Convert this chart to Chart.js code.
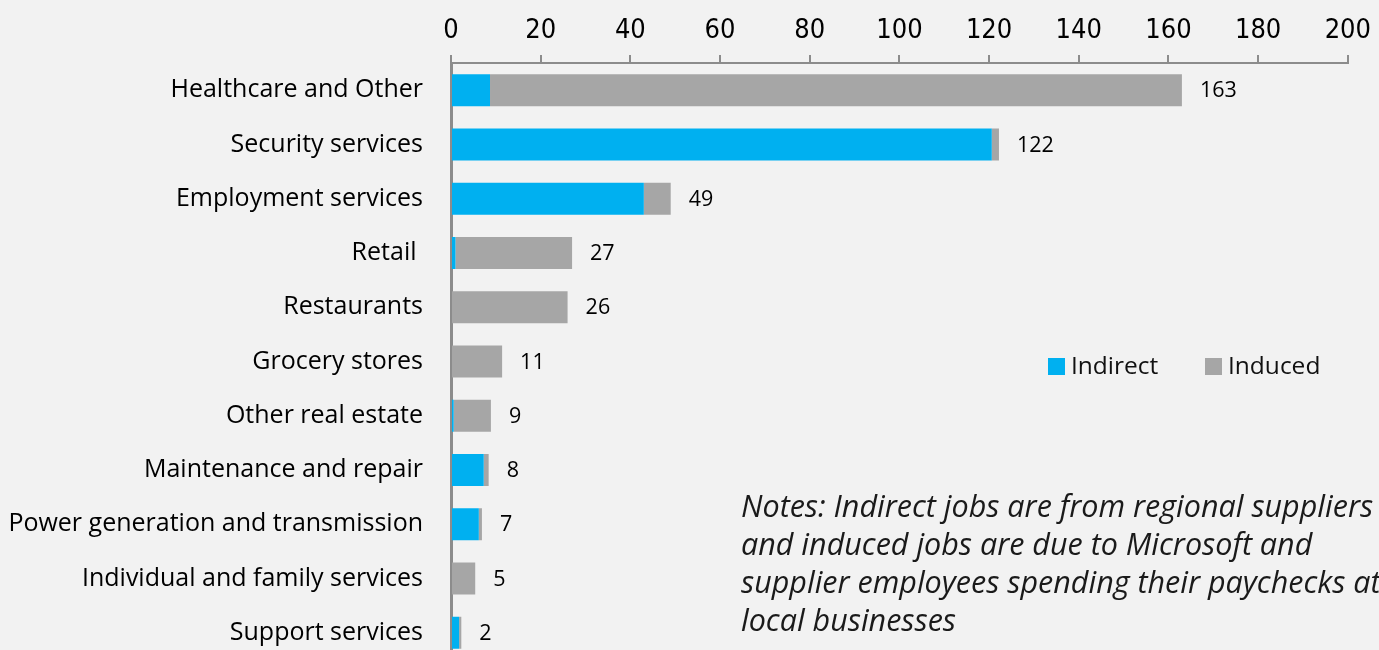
<!DOCTYPE html>
<html>
<head>
<meta charset="utf-8">
<script src="https://cdn.jsdelivr.net/npm/chart.js@4.4.0/dist/chart.umd.min.js"></script>
<style>
  html, body { margin: 0; padding: 0; background: #f2f2f2; overflow: hidden; }
  #wrap { position: relative; width: 1379px; height: 650px; overflow: hidden; background: #f2f2f2; }
  #c { position: absolute; left: 0; top: 0; }
  #notes { position: absolute; left: 741px; top: 486px; font-family: "Open Sans", sans-serif; font-style: italic;
           font-size: 30.5px; line-height: 38px; color: #1a1a1a; white-space: nowrap; }
</style>
</head>
<body>
<div id="wrap">
  <canvas id="c" width="1379" height="703" style="width:1379px;height:703px"></canvas>
  <div id="notes">Notes: Indirect jobs are from regional suppliers<br>and induced jobs are due to Microsoft and<br>supplier employees spending their paychecks at<br>local businesses</div>
</div>
<script>
const categories = ["Healthcare and Other", "Security services", "Employment services", "Retail ", "Restaurants",
  "Grocery stores", "Other real estate", "Maintenance and repair", "Power generation and transmission",
  "Individual and family services", "Support services"];
const indirect = [8.7, 120.6, 43, 1, 0, 0, 0.6, 7.3, 6.2, 0, 1.8];
const induced  = [154.3, 1.6, 6, 26, 26, 11.4, 8.3, 1.1, 0.7, 5.4, 0.5];
const xTicks = [0, 20, 40, 60, 80, 100, 120, 140, 160, 180, 200];
const seriesNames = ["Indirect", "Induced"];
const seriesColors = ["#00B0F0", "#A6A6A6"];

const totalsPlugin = {
  id: 'totals',
  afterDatasetsDraw(chart) {
    const ctx = chart.ctx;
    const meta = chart.getDatasetMeta(1);
    ctx.save();
    ctx.font = '21.5px "Open Sans", sans-serif';
    ctx.fillStyle = '#000';
    ctx.textAlign = 'left';
    ctx.textBaseline = 'middle';
    meta.data.forEach((bar, i) => {
      const total = indirect[i] + induced[i];
      ctx.fillText(String(Math.round(total)), bar.x + 18, bar.y + 1);
    });
    ctx.restore();
  }
};

const legendPlugin = {
  id: 'customLegend',
  afterDraw(chart) {
    const ctx = chart.ctx;
    const xs = [1048, 1205];
    ctx.save();
    ctx.font = '24.5px "Open Sans", sans-serif';
    ctx.textBaseline = 'middle';
    ctx.textAlign = 'left';
    chart.data.datasets.forEach((ds, i) => {
      ctx.fillStyle = ds.backgroundColor;
      ctx.fillRect(xs[i], 358, 17, 17);
      ctx.fillStyle = '#111';
      ctx.fillText(ds.label, xs[i] + 23, 367);
    });
    ctx.restore();
  }
};

new Chart(document.getElementById('c'), {
  type: 'bar',
  data: {
    labels: categories,
    datasets: [
      { label: seriesNames[0], data: indirect, backgroundColor: seriesColors[0], categoryPercentage: 1, barPercentage: 0.59 },
      { label: seriesNames[1], data: induced, backgroundColor: seriesColors[1], categoryPercentage: 1, barPercentage: 0.59 }
    ]
  },
  options: {
    indexAxis: 'y',
    responsive: false,
    maintainAspectRatio: false,
    devicePixelRatio: 1,
    animation: false,
    layout: { padding: { top: 0, right: 30, bottom: 0, left: 0 } },
    plugins: { legend: { display: false }, tooltip: { enabled: false } },
    scales: {
      x: {
        position: 'top',
        stacked: true,
        min: 0, max: 200,
        afterBuildTicks(scale) { scale.ticks = xTicks.map(v => ({ value: v })); },
        afterFit(scale) { scale.height = 63; },
        grid: { drawOnChartArea: false, drawTicks: true, tickLength: 8, color: '#8c8c8c', lineWidth: 2 },
        border: { display: true, color: '#8c8c8c', width: 2 },
        ticks: { padding: 8, color: '#000', font: { family: '"Liberation Sans Narrow", "DejaVu Sans Condensed", sans-serif', size: 27 } }
      },
      y: {
        stacked: true,
        afterFit(scale) { scale.width = 451; },
        grid: { display: false, drawTicks: false },
        border: { display: true, color: '#8c8c8c', width: 3 },
        ticks: { padding: 28, color: '#000', font: { family: '"Open Sans", sans-serif', size: 25 } }
      }
    }
  },
  plugins: [totalsPlugin, legendPlugin]
});
</script>
</body>
</html>
